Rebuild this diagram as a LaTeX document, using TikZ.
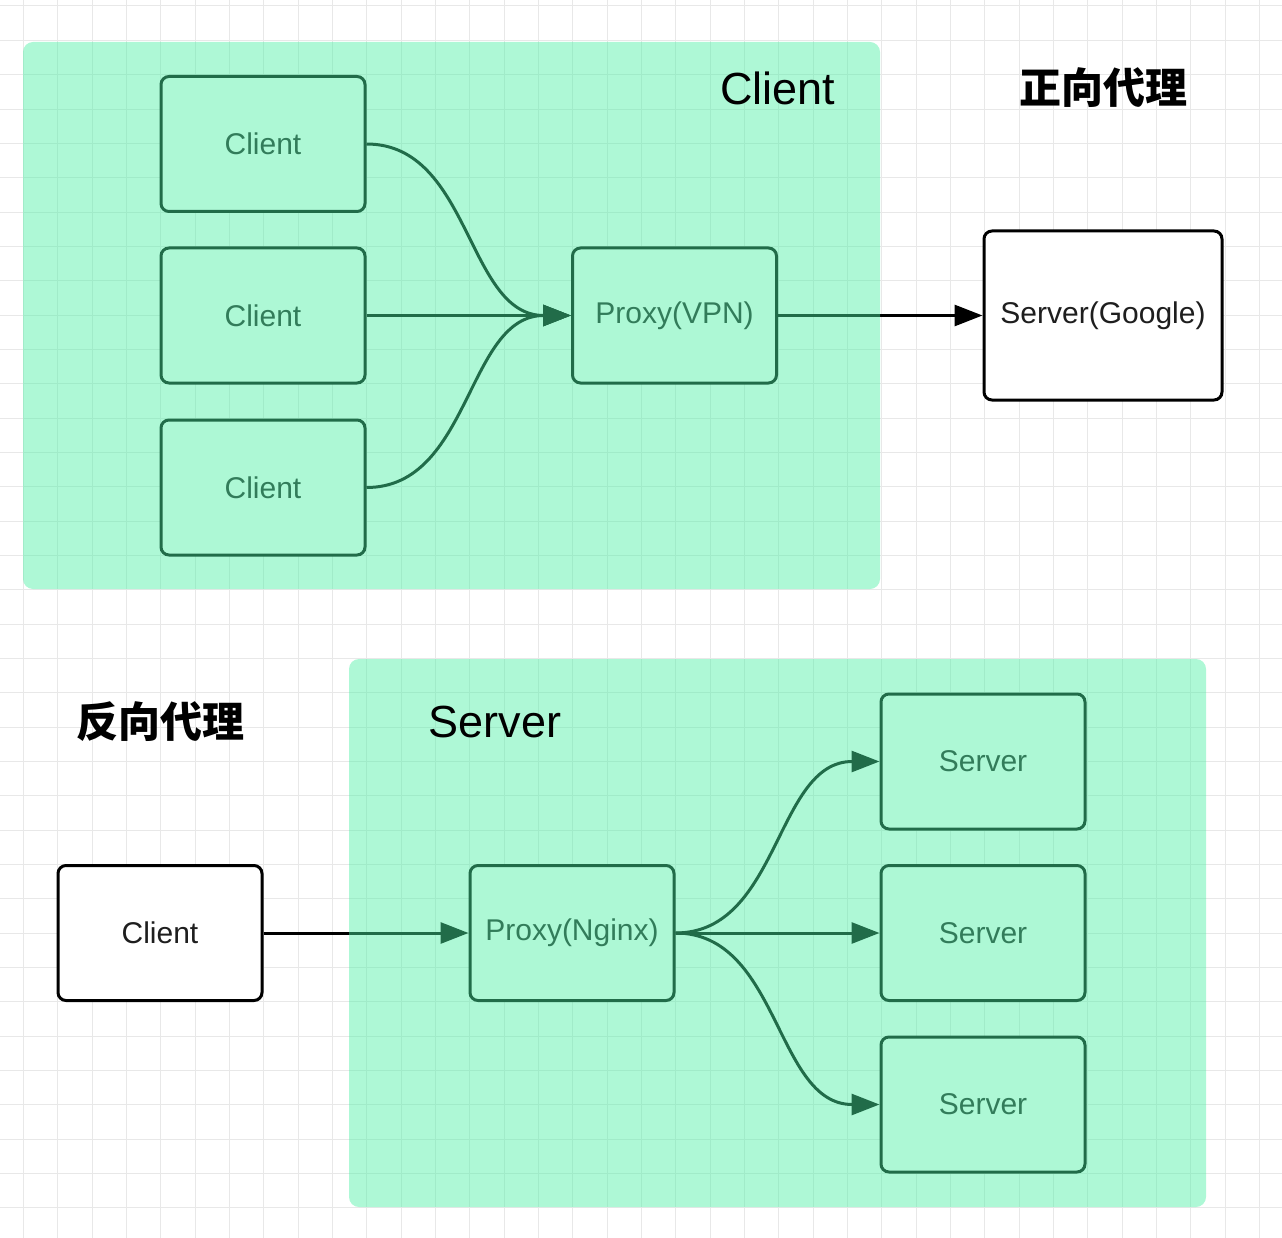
\documentclass[tikz,border=0pt]{standalone}
\usepackage{fontspec}
\setmainfont{Liberation Sans}
\newfontfamily\cjk{Noto Sans CJK SC}
\usetikzlibrary{arrows.meta}

\definecolor{gridgray}{HTML}{E8E8E8}
\definecolor{zonegreen}{rgb}{0.293,0.94,0.642}
\definecolor{boxtext}{HTML}{1E1E1E}

\tikzset{
  box/.style={draw=black, fill=white, rectangle, rounded corners=8pt, line width=3pt,
    minimum width=204pt, minimum height=135pt, text=boxtext, font=\fontsize{30}{36}\selectfont},
  link/.style={line width=3pt, -{Triangle[length=28pt,width=21pt]}},
  zone/.style={fill=zonegreen, fill opacity=0.45, rounded corners=10pt},
  title/.style={font=\fontsize{45}{54}\selectfont},
  cntitle/.style={font=\cjk\bfseries\fontsize{42}{50}\selectfont},
}

\begin{document}
\begin{tikzpicture}[x=1pt,y=-1pt]
  \useasboundingbox (0,0) rectangle (1282,1238);

  % Background grid
  \foreach \i in {0,...,38}
    \draw[gridgray, line width=1pt] ({-11+34.34*\i},0) -- ++(0,1238);
  \foreach \j in {0,...,35}
    \draw[gridgray, line width=1pt] (0,{6+34.34*\j}) -- ++(1282,0);

  % Top - forward proxy
  \node[box] (c1) at (263,144) {Client};
  \node[box] (c2) at (263,315.5) {Client};
  \node[box] (c3) at (263,487.5) {Client};
  \node[box] (vpn) at (674.5,315.5) {Proxy(VPN)};
  \node[box, minimum width=238pt, minimum height=169pt] (google) at (1103,315.5) {Server(Google)};

  \draw[link] (c1.east) to[out=0,in=180] (vpn.west);
  \draw[link] (c2.east) -- (vpn.west);
  \draw[link] (c3.east) to[out=0,in=180] (vpn.west);
  \draw[link] (vpn.east) -- (google.west);

  % Bottom - reverse proxy
  \node[box] (cl) at (160,933) {Client};
  \node[box] (nginx) at (572,933) {Proxy(Nginx)};
  \node[box] (s1) at (983,761.5) {Server};
  \node[box] (s2) at (983,933) {Server};
  \node[box] (s3) at (983,1104.5) {Server};

  \draw[link] (cl.east) -- (nginx.west);
  \draw[link] (nginx.east) to[out=0,in=180] (s1.west);
  \draw[link] (nginx.east) -- (s2.west);
  \draw[link] (nginx.east) to[out=0,in=180] (s3.west);

  % Green zones
  \fill[zone] (23,42) rectangle (880,589);
  \fill[zone] (349,659) rectangle (1206,1207);

  % Titles
  \node[title] (ctitle) at (778,88) {Client};
  \node[cntitle] (fwd) at (1103,88) {正向代理};
  \node[cntitle] (rev) at (160,722) {反向代理};
  \node[title] (stitle) at (495,722) {Server};
\end{tikzpicture}
\end{document}
